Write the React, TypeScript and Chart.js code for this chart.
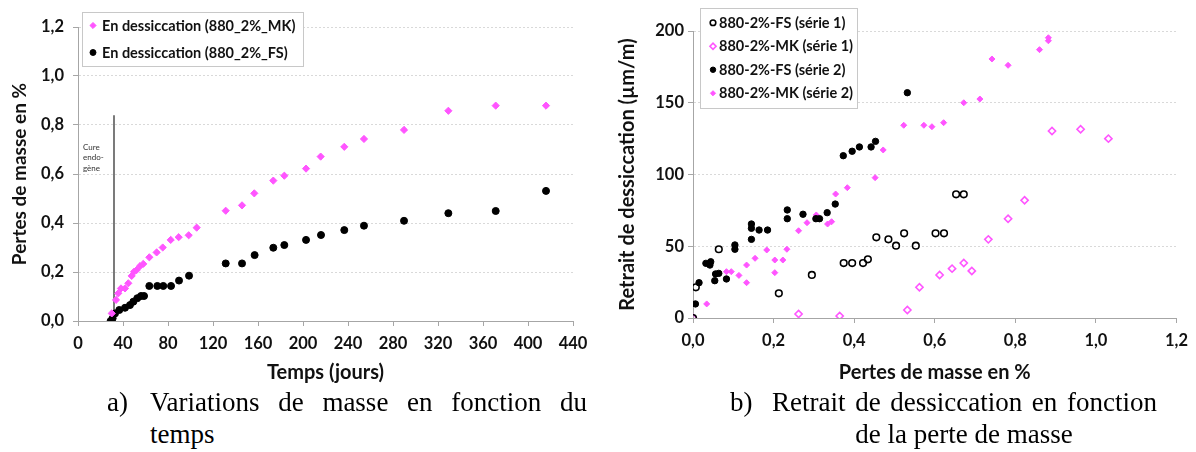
import React, { useEffect, useRef } from 'react';
import { Chart, registerables } from 'chart.js';
import { drawPoint } from 'chart.js/helpers';

Chart.register(...registerables);

// ---------- Panel a) : mass loss vs time ----------
const mkDays = [30, 33.8, 35.8, 38.2, 41.8, 44.7, 47.7, 49.8, 52.1, 55.1, 58, 63.4, 69.9, 75.3, 82.4, 89.5, 98.4, 105.5, 131.3, 145.8, 156.7, 173.6, 183.4, 202.7, 215.7, 236.7, 254.2, 289.8, 329.2, 371.3, 416];
const mkLoss = [0.031, 0.086, 0.113, 0.133, 0.133, 0.154, 0.184, 0.201, 0.208, 0.224, 0.233, 0.26, 0.28, 0.3, 0.331, 0.342, 0.35, 0.381, 0.45, 0.472, 0.521, 0.573, 0.593, 0.622, 0.671, 0.711, 0.743, 0.78, 0.858, 0.879, 0.879];
const fsDays = [29, 30.8, 32.9, 36.7, 41.8, 46.2, 49.2, 52.7, 56, 58.7, 63.4, 70.5, 75.8, 82.7, 89.8, 98.7, 131.3, 145.8, 157, 173.6, 183.4, 202.7, 216, 236.7, 254.2, 289.8, 329.2, 371.3, 416];
const fsLoss = [0.0, 0.011, 0.031, 0.045, 0.054, 0.065, 0.079, 0.093, 0.102, 0.102, 0.143, 0.143, 0.143, 0.143, 0.165, 0.185, 0.235, 0.235, 0.269, 0.299, 0.31, 0.331, 0.351, 0.371, 0.389, 0.409, 0.44, 0.449, 0.531];
const cureDay = 32;
const cureTop = 0.84;
const cureText = ['Cure', 'endo-', 'gène'];
const leftXTicks = [0, 40, 80, 120, 160, 200, 240, 280, 320, 360, 400, 440];
const leftYTicks = [0, 0.2, 0.4, 0.6, 0.8, 1.0, 1.2];
const leftLabels = ['En dessiccation (880_2%_MK)', 'En dessiccation (880_2%_FS)'];

// ---------- Panel b) : shrinkage vs mass loss ----------
const fs1X = [0.0, 0.007, 0.064, 0.213, 0.295, 0.374, 0.395, 0.422, 0.434, 0.455, 0.485, 0.504, 0.524, 0.553, 0.602, 0.623, 0.653, 0.672];
const fs1Y = [0, 21.4, 47.9, 17.2, 30.0, 38.3, 38.3, 38.3, 40.9, 56.2, 54.8, 50.4, 59, 50.4, 59, 59, 86.2, 86.2];
const mk1X = [0.0, 0.262, 0.364, 0.532, 0.562, 0.612, 0.643, 0.672, 0.692, 0.733, 0.782, 0.823, 0.891, 0.962, 1.031];
const mk1Y = [0, 2.8, 1.4, 5.6, 21.4, 30, 34.4, 38.3, 32.8, 54.8, 69.2, 82, 130.3, 131.5, 125];
const fs2X = [0.006, 0.015, 0.032, 0.042, 0.044, 0.054, 0.056, 0.064, 0.083, 0.104, 0.104, 0.145, 0.145, 0.145, 0.164, 0.185, 0.234, 0.234, 0.273, 0.305, 0.314, 0.333, 0.353, 0.373, 0.395, 0.413, 0.442, 0.453, 0.532];
const fs2Y = [9.8, 24.6, 38.1, 36.9, 39.2, 26, 30.7, 31.1, 27.2, 47.9, 50.9, 54.8, 62.5, 65.5, 61.3, 61.3, 69.2, 75.3, 72.3, 69.2, 69.2, 73.4, 79.4, 113.1, 116.2, 119.2, 119.2, 123.1, 157];
const mk2X = [0.034, 0.083, 0.095, 0.114, 0.133, 0.133, 0.154, 0.183, 0.203, 0.203, 0.223, 0.233, 0.262, 0.283, 0.306, 0.334, 0.344, 0.354, 0.383, 0.452, 0.472, 0.523, 0.573, 0.593, 0.622, 0.672, 0.712, 0.742, 0.782, 0.86, 0.882, 0.882];
const mk2Y = [9.8, 32.3, 32.3, 29.7, 36.9, 24.6, 41.6, 47.4, 40.4, 31.6, 40.4, 47.9, 60.8, 66.4, 71.8, 65.5, 67.1, 86.4, 90.8, 97.8, 117.1, 134.3, 134.3, 133.3, 136.1, 150, 152.6, 180.5, 176.1, 187, 195.3, 193.2];
const rightXTicks = [0, 0.2, 0.4, 0.6, 0.8, 1.0, 1.2];
const rightYTicks = [0, 50, 100, 150, 200];
const rightLabels = ['880-2%-FS (série 1)', '880-2%-MK (série 1)', '880-2%-FS (série 2)', '880-2%-MK (série 2)'];

// ---------- Captions ----------
const captionA1 = ['Variations', 'de', 'masse', 'en', 'fonction', 'du'];
const captionA2 = 'temps';
const captionB1 = ['Retrait', 'de', 'dessiccation', 'en', 'fonction'];
const captionB2 = 'de la perte de masse';

const PINK = '#ff55ff';
const FONT = 'Lato';
const TEXT = '#111';
const AXIS = '#a6a6a6';
const GRID = '#d9d9d9';

const zip = (xs: number[], ys: number[]) => xs.map((x, i) => ({ x, y: ys[i] }));
const comma1 = (v: number) => v.toFixed(1).replace('.', ',');

const boxLegend = {
  id: 'boxLegend',
  afterDraw(chart: any, _args: any, opts: any) {
    if (!opts || !opts.display) return;
    const ctx = chart.ctx as CanvasRenderingContext2D;
    ctx.save();
    ctx.font = `bold ${opts.fontSize}px ${FONT}`;
    const items = chart.data.datasets.filter((d: any) => d.label);
    const maxW = Math.max(...items.map((d: any) => ctx.measureText(d.label).width));
    const w = Math.round(opts.textOffset + maxW + opts.padRight);
    const h = Math.round(opts.padTop * 2 + opts.rowHeight * items.length);
    ctx.fillStyle = '#fff';
    ctx.fillRect(opts.x, opts.y, w, h);
    ctx.strokeStyle = '#c8c8c8';
    ctx.lineWidth = 1;
    ctx.strokeRect(opts.x + 0.5, opts.y + 0.5, w, h);
    items.forEach((d: any, i: number) => {
      const cy = opts.y + opts.padTop + opts.rowHeight * (i + 0.5);
      ctx.fillStyle = d.backgroundColor;
      ctx.strokeStyle = d.borderColor;
      ctx.lineWidth = d.borderWidth;
      drawPoint(ctx, { pointStyle: d.pointStyle, radius: d.pointRadius * 0.85, rotation: 0, borderWidth: d.borderWidth } as any, opts.x + opts.markerOffset, cy);
      ctx.fillStyle = TEXT;
      ctx.textBaseline = 'middle';
      ctx.textAlign = 'left';
      ctx.fillText(d.label, opts.x + opts.textOffset, cy + 0.5);
    });
    ctx.restore();
  },
};

const cureLabel = {
  id: 'cureLabel',
  afterDatasetsDraw(chart: any, _args: any, opts: any) {
    if (!opts || !opts.display) return;
    const ctx = chart.ctx as CanvasRenderingContext2D;
    const x0 = chart.chartArea.left + 5;
    const y0 = chart.scales.y.getPixelForValue(opts.yValue);
    ctx.save();
    ctx.font = `8px ${FONT}`;
    ctx.fillStyle = '#333';
    ctx.textBaseline = 'middle';
    ctx.textAlign = 'left';
    cureText.forEach((t, i) => ctx.fillText(t, x0, y0 + i * 10.5));
    ctx.restore();
  },
};

function setTicks(values: number[]) {
  return (scale: any) => {
    scale.ticks = values.map((v) => ({ value: v }));
  };
}

function fixSize(prop: 'width' | 'height', size: number) {
  return (scale: any) => {
    scale[prop] = size;
  };
}

function axisCommon(titleSize: number) {
  return {
    border: { display: true, color: AXIS, width: 1 },
    ticks: { color: TEXT, font: { family: FONT, size: 16.5, weight: 'bold' as const } },
    title: { display: true, color: TEXT, font: { family: FONT, size: titleSize, weight: 'bold' as const, lineHeight: 1.2 } },
  };
}

function LeftChart() {
  const ref = useRef<HTMLCanvasElement | null>(null);
  useEffect(() => {
    if (!ref.current) return;
    const c = axisCommon(20);
    const chart = new Chart(ref.current, {
      type: 'scatter',
      data: {
        datasets: [
          {
            label: leftLabels[0],
            data: zip(mkDays, mkLoss),
            pointStyle: 'rectRot',
            pointRadius: 3.6,
            backgroundColor: PINK,
            borderColor: PINK,
            borderWidth: 1,
          },
          {
            label: leftLabels[1],
            data: zip(fsDays, fsLoss),
            pointStyle: 'circle',
            pointRadius: 3.5,
            backgroundColor: '#000',
            borderColor: '#000',
            borderWidth: 1,
          },
          {
            type: 'line',
            data: [
              { x: cureDay, y: 0 },
              { x: cureDay, y: cureTop },
            ],
            borderColor: '#222',
            borderWidth: 1.2,
            pointRadius: 0,
            showLine: true,
          } as any,
        ],
      },
      options: {
        animation: false,
        responsive: false,
        layout: { padding: { left: 0, right: 27, top: 27, bottom: 0 } },
        plugins: {
          legend: { display: false },
          tooltip: { enabled: false },
          boxLegend: { display: true, x: 82, y: 12, rowHeight: 27, padTop: 0, markerOffset: 11, textOffset: 20, padRight: 8, fontSize: 14.5 },
          cureLabel: { display: true, yValue: 0.71 },
        } as any,
        scales: {
          x: {
            type: 'linear',
            min: 0,
            max: 440,
            afterBuildTicks: setTicks(leftXTicks),
            afterFit: fixSize('height', 69),
            grid: { display: true, drawOnChartArea: false, drawTicks: true, tickLength: 5, tickColor: AXIS },
            border: c.border,
            ticks: { ...c.ticks, padding: 8, maxRotation: 0, autoSkip: false, callback: (v: any) => String(v) },
            title: { ...c.title, text: 'Temps (jours)', padding: { top: 0, bottom: 5 } },
          },
          y: {
            type: 'linear',
            min: 0,
            max: 1.2,
            afterBuildTicks: setTicks(leftYTicks),
            afterFit: fixSize('width', 78),
            grid: { color: GRID, lineWidth: 1, drawTicks: true, tickLength: 5, tickColor: AXIS },
            border: { ...c.border, dash: [2, 2] },
            ticks: { ...c.ticks, padding: 9, autoSkip: false, callback: (v: any) => comma1(Number(v)) },
            title: { ...c.title, font: { ...c.title.font, size: 19 }, text: 'Pertes de masse en %', padding: { top: 8, bottom: 0 } },
          },
        },
      },
      plugins: [boxLegend, cureLabel],
    });
    return () => chart.destroy();
  }, []);
  return <canvas ref={ref} width={600} height={390} style={{ position: 'absolute', left: 0, top: 0, display: 'block' }} />;
}

function RightChart() {
  const ref = useRef<HTMLCanvasElement | null>(null);
  useEffect(() => {
    if (!ref.current) return;
    const c = axisCommon(20);
    const chart = new Chart(ref.current, {
      type: 'scatter',
      data: {
        datasets: [
          {
            label: rightLabels[0],
            data: zip(fs1X, fs1Y),
            pointStyle: 'circle',
            pointRadius: 3.3,
            backgroundColor: 'rgba(255,255,255,0)',
            borderColor: '#000',
            borderWidth: 1.6,
          },
          {
            label: rightLabels[1],
            data: zip(mk1X, mk1Y),
            pointStyle: 'rectRot',
            pointRadius: 3.6,
            backgroundColor: 'rgba(255,255,255,0)',
            borderColor: PINK,
            borderWidth: 1.6,
          },
          {
            label: rightLabels[2],
            data: zip(fs2X, fs2Y),
            pointStyle: 'circle',
            pointRadius: 3.2,
            backgroundColor: '#000',
            borderColor: '#000',
            borderWidth: 1,
          },
          {
            label: rightLabels[3],
            data: zip(mk2X, mk2Y),
            pointStyle: 'rectRot',
            pointRadius: 3.0,
            backgroundColor: PINK,
            borderColor: PINK,
            borderWidth: 1,
          },
        ],
      },
      options: {
        animation: false,
        responsive: false,
        layout: { padding: { left: 0, right: 13, top: 31, bottom: 0 } },
        plugins: {
          legend: { display: false },
          tooltip: { enabled: false },
          boxLegend: { display: true, x: 100, y: 8, rowHeight: 23.5, padTop: 3, markerOffset: 13, textOffset: 19, padRight: 4, fontSize: 14.5 },
        } as any,
        scales: {
          x: {
            type: 'linear',
            min: 0,
            max: 1.2,
            afterBuildTicks: setTicks(rightXTicks),
            afterFit: fixSize('height', 72),
            grid: { display: true, drawOnChartArea: false, drawTicks: true, tickLength: 5, tickColor: AXIS },
            border: c.border,
            ticks: { ...c.ticks, padding: 8, maxRotation: 0, autoSkip: false, callback: (v: any) => comma1(Number(v)) },
            title: { ...c.title, text: 'Pertes de masse en %', padding: { top: 0, bottom: 5 } },
          },
          y: {
            type: 'linear',
            min: 0,
            max: 200,
            afterBuildTicks: setTicks(rightYTicks),
            afterFit: fixSize('width', 93),
            grid: { color: GRID, lineWidth: 1, drawTicks: true, tickLength: 5, tickColor: AXIS },
            border: { ...c.border, dash: [2, 2] },
            ticks: { ...c.ticks, padding: 4, autoSkip: false, callback: (v: any) => String(v) },
            title: { ...c.title, text: 'Retrait de dessiccation (µm/m)', padding: { top: 16, bottom: 0 } },
          },
        },
      },
      plugins: [boxLegend],
    });
    return () => chart.destroy();
  }, []);
  return <canvas ref={ref} width={596} height={390} style={{ position: 'absolute', left: 600, top: 0, display: 'block' }} />;
}

const capFont: React.CSSProperties = {
  position: 'absolute',
  fontFamily: '"Liberation Serif", "Times New Roman", serif',
  fontSize: 27,
  lineHeight: '32px',
  color: '#000',
  whiteSpace: 'nowrap',
};

function Justified({ words, left, top, width }: { words: string[]; left: number; top: number; width: number }) {
  return (
    <div style={{ ...capFont, left, top, width, display: 'flex', justifyContent: 'space-between' }}>
      {words.map((w, i) => (
        <span key={i}>{w}</span>
      ))}
    </div>
  );
}

export default function App() {
  return (
    <div style={{ position: 'absolute', left: 0, top: 0, width: 1196, height: 452, background: '#fff', overflow: 'hidden' }}>
      <LeftChart />
      <RightChart />
      <div style={{ ...capFont, left: 107, top: 386 }}>a)</div>
      <Justified words={captionA1} left={150} top={386} width={437} />
      <div style={{ ...capFont, left: 150, top: 418 }}>{captionA2}</div>
      <div style={{ ...capFont, left: 730, top: 386 }}>b)</div>
      <Justified words={captionB1} left={772} top={386} width={385} />
      <div style={{ ...capFont, left: 764, top: 418, width: 400, textAlign: 'center' }}>{captionB2}</div>
    </div>
  );
}
